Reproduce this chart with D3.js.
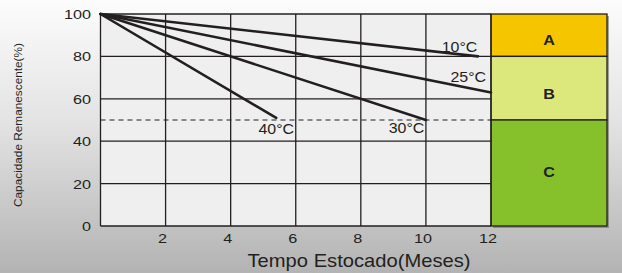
<!DOCTYPE html>
<html><head><meta charset="utf-8">
<script src="https://cdn.jsdelivr.net/npm/d3@7"></script>
<style>html,body{margin:0;padding:0;}svg{display:block;}</style>
</head><body>
<script>
const xTicks = [2, 4, 6, 8, 10, 12];
const yTicks = [0, 20, 40, 60, 80, 100];
const seriesNames = ["10°C", "25°C", "30°C", "40°C"];
const seriesStart = [[0, 100], [0, 100], [0, 100], [0, 100]];
const seriesEnd = [[11.6, 80], [12, 63], [10, 50], [5.4, 51]];
const zoneNames = ["A", "B", "C"];
const zoneFrom = [80, 50, 0];
const zoneTo = [100, 80, 50];
const zoneColors = ["#f5c500", "#dce87c", "#86c02a"];
const cutoff = 50;

const W = 622, H = 273;
const svg = d3.select("body").append("svg").attr("width", W).attr("height", H)
  .style("font-family", "'Liberation Sans', Arial, sans-serif");

const defs = svg.append("defs");
const g = defs.append("linearGradient").attr("id", "bg").attr("x1", 0).attr("y1", 0).attr("x2", 0).attr("y2", 1);
g.append("stop").attr("offset", "0%").attr("stop-color", "#fcfcfc");
g.append("stop").attr("offset", "45%").attr("stop-color", "#e3e3e3");
g.append("stop").attr("offset", "100%").attr("stop-color", "#b3b3b3");
svg.append("rect").attr("width", W).attr("height", H).attr("fill", "url(#bg)");

const x = d3.scaleLinear().domain([0, 12]).range([100.5, 491]);
const y = d3.scaleLinear().domain([0, 100]).range([226, 14]);
const boxW = 116;
const ink = "#231f20";

function txt(px, py, s, size, anchor, sx, extra) {
  const t = svg.append("text")
    .attr("transform", `translate(${px},${py}) scale(${sx},1)`)
    .attr("text-anchor", anchor).attr("font-size", size).attr("fill", ink).text(s);
  if (extra) extra(t);
  return t;
}

// plot area
svg.append("rect").attr("x", x(0)).attr("y", y(100)).attr("width", x(12) - x(0)).attr("height", y(0) - y(100)).attr("fill", "#efefef");

// zones
const zx = x(12);
const zoneLabelDy = [10, 10.5, 4];
svg.append("rect").attr("x", zx + 2).attr("y", y(100) + 2).attr("width", boxW).attr("height", y(0) - y(100)).attr("fill", "#6a6a6a").attr("opacity", 0.6);
zoneNames.forEach((n, i) => {
  svg.append("rect").attr("x", zx).attr("y", y(zoneTo[i])).attr("width", boxW).attr("height", y(zoneFrom[i]) - y(zoneTo[i]))
    .attr("fill", zoneColors[i]).attr("stroke", ink).attr("stroke-width", 1.3);
  txt(zx + boxW / 2, (y(zoneTo[i]) + y(zoneFrom[i])) / 2 + zoneLabelDy[i], n, 14, "middle", 1.15, t => t.attr("font-weight", "bold"));
});

// grid
yTicks.forEach(t => {
  svg.append("line").attr("x1", x(0)).attr("x2", x(12)).attr("y1", y(t)).attr("y2", y(t)).attr("stroke", ink).attr("stroke-width", 1.3);
});
[0].concat(xTicks).forEach(t => {
  svg.append("line").attr("x1", x(t)).attr("x2", x(t)).attr("y1", y(0)).attr("y2", y(100)).attr("stroke", ink).attr("stroke-width", 1.3);
});

// cutoff dashed line
svg.append("line").attr("x1", x(0)).attr("x2", x(12)).attr("y1", y(cutoff)).attr("y2", y(cutoff))
  .attr("stroke", ink).attr("stroke-width", 1).attr("stroke-dasharray", "5,4");

// series
seriesNames.forEach((n, i) => {
  svg.append("line").attr("x1", x(seriesStart[i][0])).attr("y1", y(seriesStart[i][1]))
    .attr("x2", x(seriesEnd[i][0])).attr("y2", y(seriesEnd[i][1]))
    .attr("stroke", ink).attr("stroke-width", 2.6).attr("stroke-linecap", "round");
});

// series labels
const labelPos = [[11.58, 52], [11.85, 81.7], [9.95, 133], [5.95, 134]];
seriesNames.forEach((n, i) => {
  txt(x(labelPos[i][0]), labelPos[i][1], n, 14.5, "end", 1.1);
});

// axis tick labels
yTicks.forEach(t => {
  txt(91, y(t) + 5, t, 13.5, "end", 1.2);
});
xTicks.forEach(t => {
  txt(x(t) - 3, 243, t, 13.5, "middle", 1.2);
});

txt(359, 267, "Tempo Estocado(Meses)", 18, "middle", 1.12);
svg.append("text").attr("transform", "translate(22,125) rotate(-90)").attr("text-anchor", "middle").attr("font-size", 11.8).attr("fill", ink).text("Capacidade Remanescente(%)");
</script>
</body></html>
